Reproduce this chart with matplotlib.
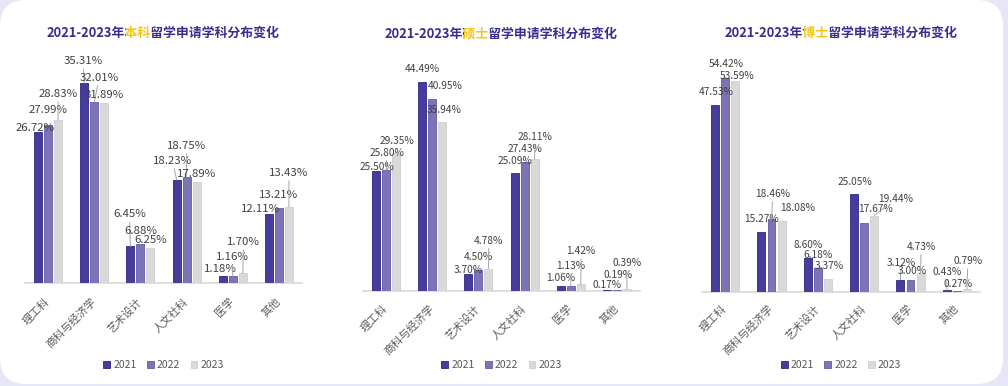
import matplotlib
matplotlib.use('Agg')
import matplotlib.pyplot as plt
from matplotlib.patches import FancyBboxPatch, Patch
from matplotlib.transforms import Bbox
import numpy as np

plt.rcParams['font.family'] = ['Noto Sans CJK SC', 'DejaVu Sans']

# ---------------- data ----------------
categories = ['理工科', '商科与经济学', '艺术设计', '人文社科', '医学', '其他']
years = ['2021', '2022', '2023']

bachelor_2021 = [26.72, 35.31, 6.45, 18.23, 1.18, 12.11]
bachelor_2022 = [27.99, 32.01, 6.88, 18.75, 1.16, 13.21]
bachelor_2023 = [28.83, 31.89, 6.25, 17.89, 1.70, 13.43]

master_2021 = [25.50, 44.49, 3.70, 25.09, 1.06, 0.17]
master_2022 = [25.80, 40.95, 4.50, 27.43, 1.13, 0.19]
master_2023 = [29.35, 35.94, 4.78, 28.11, 1.42, 0.39]

phd_2021 = [47.53, 15.27, 8.60, 25.05, 3.12, 0.43]
phd_2022 = [54.42, 18.46, 6.18, 17.67, 3.00, 0.27]
phd_2023 = [53.59, 18.08, 3.37, 19.44, 4.73, 0.79]

title_pre = '2021-2023年'
title_post = '留学申请学科分布变化'
levels = ['本科', '硕士', '博士']

# label offsets (pixels, dx, dy-up) per series, per category
bachelor_offsets = [
    [(-3, 4), (-1, 22), (-1, 32), (-4, 19), (-2, 7), (-8, 5.5)],
    [(0, 14.6), (5, 24), (0, 13), (0, 31), (0, 19), (0, 13)],
    [(0, 26), (0, 7.5), (0, 7.6), (0, 7.4), (0.6, 31.4), (0, 34)],
]
master_offsets = [
    [(0.9, 4.4), (0.4, 12.6), (-0.2, 3.6), (0, 12.3), (0.4, 7.7), (0.6, 5)],
    [(0.9, 17), (12.7, 12.5), (0.2, 12.6), (0.6, 12.7), (0.4, 19.7), (0.9, 15)],
    [(1.2, 12), (1.4, 12), (0.3, 28), (0.3, 22), (0.4, 33), (-0.1, 26.5)],
]
phd_offsets = [
    [(0.8, 13), (0.5, 13), (0, 13), (0.9, 12), (0.6, 17), (0.3, 18)],
    [(1.1, 13.8), (1.3, 25.5), (0.2, 13), (11.4, 13.3), (1.3, 9), (0.8, 6.7)],
    [(1.8, 5.7), (16.5, 12.7), (0.9, 12.8), (21.7, 17), (0.6, 26.7), (1.1, 28)],
]

# ---------------- style ----------------
colors = ['#463c9c', '#7d73b7', '#d9d9d9']
edges = ['#2f2585', '#655aa6', '#cfcfcf']
title_color = '#3a2d8f'
hl_color = '#f5c518'
label_color = '#404040'
tick_color = '#595959'

W, H = 1008, 386
fig = plt.figure(figsize=(W / 100, H / 100), dpi=100)
fig.patch.set_facecolor('#e6e6f6')
bg = fig.add_axes([0, 0, 1, 1], zorder=-10)
bg.set_xlim(0, W)
bg.set_ylim(H, 0)
bg.axis('off')
bg.add_patch(FancyBboxPatch((0, 0), 1003, 384,
                            boxstyle='round,pad=0,rounding_size=26',
                            fc='white', ec='none'))

def px_axes(x0, x1, ytop, ybot):
    return fig.add_axes([x0 / W, 1 - ybot / H, (x1 - x0) / W, (ybot - ytop) / H])

panels = [
    dict(series=[bachelor_2021, bachelor_2022, bachelor_2023], offs=bachelor_offsets,
         x0=25, x1=302, ybot=283, ymax=40, scale=5.66, lfs=8.2, tdy=17),
    dict(series=[master_2021, master_2022, master_2023], offs=master_offsets,
         x0=363, x1=640, ybot=291, ymax=50, scale=4.7, lfs=7.3, tdy=16),
    dict(series=[phd_2021, phd_2022, phd_2023], offs=phd_offsets,
         x0=702, x1=980, ybot=292, ymax=60, scale=3.93, lfs=7.3, tdy=15),
]

renderer = fig.canvas.get_renderer()
step = 0.217
width = 0.172
x = np.arange(len(categories))
TFS = 9.3
TY = 33  # title centre, pixels from top

def text_width(s):
    t = fig.text(0, 0, s, fontsize=TFS, fontweight='bold')
    w = t.get_window_extent(renderer).width
    t.remove()
    return w

for p, level in zip(panels, levels):
    ytop = p['ybot'] - p['ymax'] * p['scale']
    ax = px_axes(p['x0'], p['x1'], ytop, p['ybot'])
    ax.set_xlim(-0.5, len(categories) - 0.5)
    ax.set_ylim(0, p['ymax'])
    ax.patch.set_alpha(0)
    for s in ['top', 'right', 'left']:
        ax.spines[s].set_visible(False)
    ax.spines['bottom'].set_color('#d9d9d9')
    ax.spines['bottom'].set_linewidth(1.2)
    ax.set_yticks([])
    ax.set_xticks([])

    for j, vals in enumerate(p['series']):
        xs = x + (j - 1) * step
        ax.bar(xs, vals, width, color=colors[j], edgecolor=edges[j], linewidth=0.6, zorder=3)
        for i, v in enumerate(vals):
            dx, dy = p['offs'][j][i]
            ap = None
            if dy >= 17:
                ap = dict(arrowstyle='-', color='#a6a6a6', lw=0.7, shrinkA=0, shrinkB=0)
            ax.annotate(f'{v:.2f}%', xy=(xs[i], v), xytext=(dx, dy),
                        textcoords='offset pixels', ha='center', va='center',
                        fontsize=p['lfs'], color=label_color, arrowprops=ap,
                        annotation_clip=False, zorder=5)

    for i, cat in enumerate(categories):
        ax.annotate(cat, xy=(i, 0), xycoords=('data', 'axes fraction'),
                    xytext=(0, -p['tdy']), textcoords='offset pixels',
                    rotation=45, ha='right', va='center', rotation_mode='anchor',
                    fontsize=7.8, color=tick_color, annotation_clip=False)

    cx = (p['x0'] + p['x1']) / 2
    # title: one string drawn three times, each clipped to its colour segment
    full = title_pre + level + title_post
    w_pre = text_width(title_pre)
    w_mid = text_width(title_pre + level)
    w_all = text_width(full)
    left = cx - w_all / 2
    b1 = left + w_pre + 1.0
    b2 = left + w_mid + 1.0
    yb0, yb1 = H - TY - 15, H - TY + 15
    for c, (xa, xb) in [(title_color, (0, b1)), (hl_color, (b1, b2)), (title_color, (b2, W))]:
        t = fig.text(cx / W, 1 - TY / H, full, color=c, fontsize=TFS,
                     fontweight='bold', ha='center', va='center')
        t.set_clip_box(Bbox([[xa, yb0], [xb, yb1]]))
        t.set_clip_on(True)

    handles = [Patch(facecolor=colors[j], edgecolor=edges[j], linewidth=0.6) for j in range(3)]
    ax.legend(handles, years, loc='center', bbox_to_anchor=(cx / W, 1 - 365 / H),
              bbox_transform=fig.transFigure, ncol=3, frameon=False,
              handlelength=0.65, handleheight=0.65, handletextpad=0.3,
              columnspacing=1.0, fontsize=7.5, labelcolor=tick_color)

fig.savefig('out.png', dpi=100, facecolor=fig.get_facecolor())
